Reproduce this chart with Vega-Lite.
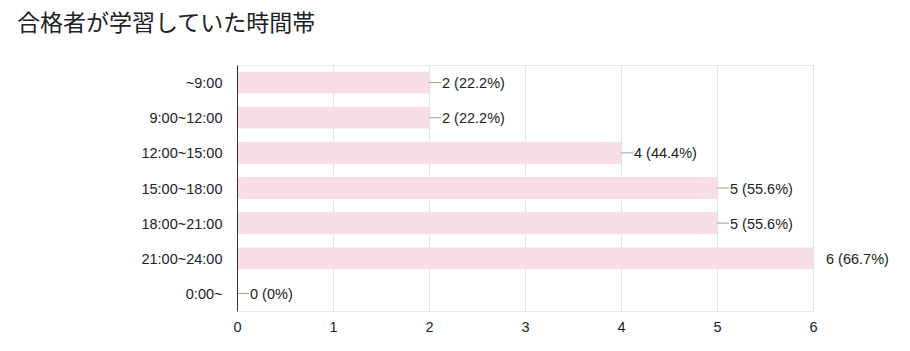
{
  "$schema": "https://vega.github.io/schema/vega-lite/v6.json",
  "autosize": "none",
  "padding": {"left": 237, "top": 65, "right": 97, "bottom": 40},
  "width": 576,
  "height": 246,
  "background": "white",
  "title": {
    "text": "合格者が学習していた時間帯",
    "anchor": "start",
    "frame": "group",
    "dx": -220,
    "offset": 29,
    "font": "Noto Sans CJK JP",
    "fontSize": 23,
    "fontWeight": "normal",
    "color": "#202124"
  },
  "config": {
    "view": {"stroke": "#e8e8e8", "strokeWidth": 1},
    "font": "Liberation Sans"
  },
  "data": {
    "values": [
      {"slot": "~9:00", "count": 2, "label": "2 (22.2%)"},
      {"slot": "9:00~12:00", "count": 2, "label": "2 (22.2%)"},
      {"slot": "12:00~15:00", "count": 4, "label": "4 (44.4%)"},
      {"slot": "15:00~18:00", "count": 5, "label": "5 (55.6%)"},
      {"slot": "18:00~21:00", "count": 5, "label": "5 (55.6%)"},
      {"slot": "21:00~24:00", "count": 6, "label": "6 (66.7%)"},
      {"slot": "0:00~", "count": 0, "label": "0 (0%)"}
    ]
  },
  "encoding": {
    "y": {
      "field": "slot",
      "type": "nominal",
      "sort": null,
      "scale": {"paddingInner": 0.38, "paddingOuter": 0.19},
      "axis": {
        "title": null,
        "ticks": false,
        "domain": true,
        "domainColor": "#333333",
        "domainWidth": 1,
        "grid": false,
        "zindex": 2,
        "labelFont": "Liberation Sans",
        "labelFontSize": 14.5,
        "labelColor": "#222222",
        "labelPadding": 15,
        "labelOffset": 1.5
      }
    },
    "x": {
      "field": "count",
      "type": "quantitative",
      "scale": {"domain": [0, 6], "nice": false},
      "axis": {
        "title": null,
        "values": [0, 0.5, 1, 1.5, 2, 2.5, 3, 3.5, 4, 4.5, 5, 5.5, 6],
        "format": "d",
        "labelExpr": "datum.value % 1 === 0 ? datum.label : ''",
        "ticks": false,
        "domain": true,
        "domainColor": "#e8e8e8",
        "grid": true,
        "gridColor": {"condition": {"test": "datum.value % 1 === 0", "value": "#e3e3e3"}, "value": "#f3f3f3"},
        "labelFont": "Liberation Sans",
        "labelFontSize": 14.5,
        "labelColor": "#222222",
        "labelPadding": 9,
        "labelFlush": false
      }
    }
  },
  "layer": [
    {
      "mark": {"type": "bar", "color": "#f9dde6"}
    },
    {
      "transform": [{"filter": "datum.count < 6"}],
      "mark": {"type": "rule", "color": "#9e9e9e", "strokeWidth": 1, "x2Offset": 12},
      "encoding": {
        "x2": {"field": "count"}
      }
    },
    {
      "mark": {"type": "text", "align": "left", "dx": 13, "dy": 1.5, "font": "Liberation Sans", "fontSize": 14.5, "color": "#222222", "baseline": "middle"},
      "encoding": {
        "text": {"field": "label"}
      }
    }
  ]
}
